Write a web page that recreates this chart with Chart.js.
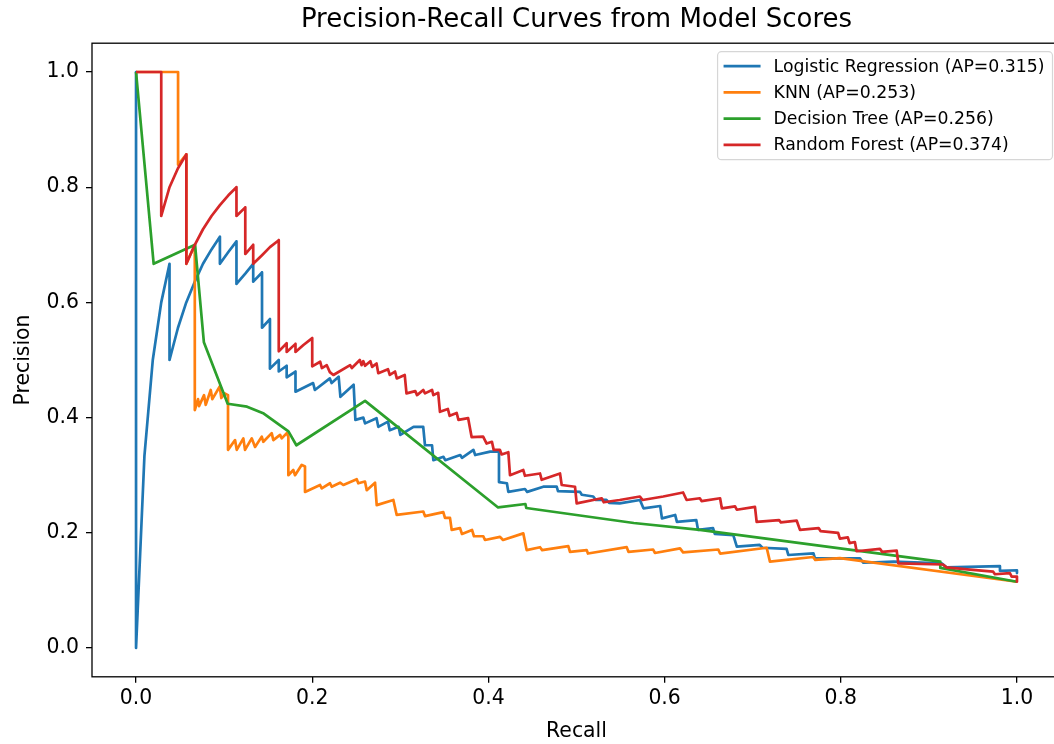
<!DOCTYPE html>
<html>
<head>
<meta charset="utf-8">
<script src="https://cdn.jsdelivr.net/npm/chart.js@4.4.1/dist/chart.umd.min.js"></script>
<style>
  html, body { margin: 0; padding: 0; background: #fff; overflow: hidden; }
  #wrap { width: 1061px; height: 744px; }
</style>
</head>
<body>
<div id="wrap"><canvas id="pr" width="1061" height="744"></canvas></div>
<script>
const modelNames = ['Logistic Regression', 'KNN', 'Decision Tree', 'Random Forest'];
const apScores = [0.315, 0.253, 0.256, 0.374];
const lineColors = ['#1f77b4', '#ff7f0e', '#2ca02c', '#d62728'];
const xTicks = [0, 0.2, 0.4, 0.6, 0.8, 1.0];
const yTicks = [0, 0.2, 0.4, 0.6, 0.8, 1.0];

// [recall, precision] vertices
const lrCurve = [
  [0, 1], [0, 0], [0.0095, 0.333], [0.019, 0.5], [0.0286, 0.6], [0.038, 0.667], [0.038, 0.5],
  [0.0476, 0.556], [0.057, 0.6], [0.0667, 0.636], [0.076, 0.667], [0.0857, 0.692], [0.0952, 0.714],
  [0.0952, 0.667], [0.105, 0.688], [0.114, 0.706], [0.114, 0.632], [0.124, 0.65], [0.133, 0.667],
  [0.133, 0.636], [0.143, 0.652], [0.143, 0.556], [0.152, 0.571], [0.152, 0.485], [0.162, 0.5],
  [0.162, 0.48], [0.171, 0.49], [0.171, 0.47], [0.181, 0.48], [0.181, 0.445], [0.201, 0.46],
  [0.203, 0.448], [0.22, 0.468], [0.222, 0.46], [0.23, 0.471], [0.232, 0.436], [0.247, 0.457],
  [0.249, 0.396], [0.258, 0.4], [0.26, 0.39], [0.273, 0.399], [0.275, 0.384], [0.286, 0.393],
  [0.288, 0.378], [0.298, 0.384], [0.3, 0.37], [0.315, 0.384], [0.326, 0.384], [0.328, 0.352],
  [0.336, 0.352], [0.3375, 0.326], [0.349, 0.332], [0.351, 0.326], [0.368, 0.335], [0.37, 0.33],
  [0.383, 0.344], [0.385, 0.335], [0.402, 0.341], [0.412, 0.341], [0.412, 0.288], [0.421, 0.286],
  [0.4226, 0.271], [0.4415, 0.276], [0.444, 0.271], [0.4623, 0.28], [0.4775, 0.28], [0.479, 0.2725],
  [0.504, 0.271], [0.506, 0.266], [0.519, 0.263], [0.522, 0.257], [0.534, 0.257], [0.537, 0.252],
  [0.549, 0.251], [0.572, 0.257], [0.576, 0.2425], [0.595, 0.2465], [0.597, 0.225], [0.612, 0.231],
  [0.614, 0.219], [0.636, 0.222], [0.638, 0.205], [0.655, 0.208], [0.657, 0.198], [0.678, 0.196],
  [0.682, 0.176], [0.708, 0.179], [0.711, 0.174], [0.7385, 0.172], [0.7404, 0.1615], [0.769, 0.1644],
  [0.7707, 0.1557], [0.8218, 0.1557], [0.8256, 0.148], [0.86, 0.15], [0.9145, 0.147], [0.92, 0.14],
  [0.9807, 0.142], [0.9807, 0.134], [1.0, 0.135], [1.0, 0.13]
];
const knnCurve = [
  [0, 1], [0.0477, 1], [0.0477, 0.839], [0.0571, 0.857], [0.0571, 0.667], [0.0667, 0.7], [0.0667, 0.413],
  [0.0704, 0.432], [0.0715, 0.42], [0.0772, 0.439], [0.0791, 0.422], [0.0848, 0.448], [0.0866, 0.432],
  [0.095, 0.454], [0.0968, 0.434], [0.1007, 0.442], [0.1044, 0.439], [0.1044, 0.344], [0.1124, 0.361],
  [0.1143, 0.344], [0.1218, 0.364], [0.1237, 0.344], [0.1313, 0.364], [0.1351, 0.349], [0.1427, 0.367],
  [0.1445, 0.358], [0.154, 0.373], [0.1558, 0.361], [0.1635, 0.37], [0.1654, 0.364], [0.1711, 0.373],
  [0.1729, 0.367], [0.1729, 0.3], [0.1785, 0.309], [0.1805, 0.3], [0.1881, 0.318], [0.1918, 0.315],
  [0.1918, 0.271], [0.2089, 0.283], [0.2108, 0.277], [0.2202, 0.286], [0.2221, 0.28], [0.2316, 0.287],
  [0.2353, 0.283], [0.2505, 0.293], [0.2523, 0.286], [0.2599, 0.289], [0.2619, 0.274], [0.2713, 0.287],
  [0.2732, 0.248], [0.2921, 0.257], [0.2959, 0.231], [0.3261, 0.237], [0.328, 0.229], [0.3488, 0.236],
  [0.3507, 0.226], [0.3564, 0.226], [0.3583, 0.205], [0.3678, 0.208], [0.37, 0.198], [0.3814, 0.205],
  [0.3836, 0.194], [0.3942, 0.194], [0.3961, 0.1875], [0.4132, 0.193], [0.4166, 0.1875], [0.4396, 0.199],
  [0.4434, 0.17], [0.4586, 0.175], [0.461, 0.17], [0.4907, 0.177], [0.4926, 0.167], [0.5116, 0.17],
  [0.513, 0.164], [0.557, 0.175], [0.559, 0.167], [0.587, 0.171], [0.589, 0.165], [0.6175, 0.173],
  [0.621, 0.166], [0.661, 0.171], [0.663, 0.164], [0.7159, 0.174], [0.7196, 0.15], [0.7685, 0.158],
  [0.771, 0.153], [0.799, 0.156], [1.0, 0.115]
];
const dtCurve = [
  [0, 1], [0.02, 0.667], [0.067, 0.7], [0.077, 0.531], [0.104, 0.424], [0.126, 0.419], [0.145, 0.407],
  [0.173, 0.376], [0.182, 0.352], [0.26, 0.429], [0.411, 0.244], [0.442, 0.25], [0.443, 0.243],
  [0.565, 0.217], [0.64, 0.205], [0.913, 0.15], [0.913, 0.139], [1.0, 0.115]
];
const rfCurve = [
  [0, 1], [0.0286, 1], [0.0286, 0.75], [0.038, 0.8], [0.0476, 0.833], [0.0571, 0.857], [0.0571, 0.667],
  [0.0667, 0.7], [0.076, 0.727], [0.0857, 0.75], [0.0952, 0.769], [0.1048, 0.786], [0.114, 0.8],
  [0.114, 0.75], [0.124, 0.765], [0.124, 0.684], [0.133, 0.7], [0.133, 0.667], [0.143, 0.682],
  [0.152, 0.696], [0.162, 0.708], [0.162, 0.515], [0.171, 0.529], [0.171, 0.514], [0.181, 0.528],
  [0.181, 0.514], [0.19, 0.526], [0.2, 0.538], [0.2, 0.489], [0.209, 0.497], [0.211, 0.486],
  [0.2165, 0.491], [0.22, 0.479], [0.224, 0.474], [0.243, 0.491], [0.245, 0.486], [0.254, 0.5],
  [0.256, 0.491], [0.258, 0.498], [0.26, 0.49], [0.266, 0.498], [0.268, 0.488], [0.273, 0.494],
  [0.275, 0.477], [0.286, 0.484], [0.288, 0.474], [0.294, 0.48], [0.296, 0.468], [0.305, 0.474],
  [0.307, 0.442], [0.317, 0.446], [0.319, 0.439], [0.326, 0.448], [0.328, 0.442], [0.336, 0.448],
  [0.3375, 0.439], [0.343, 0.443], [0.345, 0.41], [0.354, 0.415], [0.356, 0.403], [0.364, 0.408],
  [0.366, 0.396], [0.377, 0.399], [0.381, 0.366], [0.394, 0.367], [0.398, 0.355], [0.404, 0.358],
  [0.406, 0.344], [0.413, 0.344], [0.415, 0.336], [0.4226, 0.34], [0.4245, 0.3], [0.4396, 0.309],
  [0.4415, 0.299], [0.4586, 0.303], [0.4605, 0.292], [0.4813, 0.303], [0.4832, 0.283], [0.4983, 0.28],
  [0.5002, 0.251], [0.5286, 0.26], [0.531, 0.253], [0.549, 0.257], [0.572, 0.263], [0.575, 0.257],
  [0.5985, 0.263], [0.621, 0.27], [0.625, 0.257], [0.64, 0.26], [0.642, 0.255], [0.663, 0.26],
  [0.665, 0.2425], [0.68, 0.246], [0.682, 0.24], [0.7026, 0.245], [0.7045, 0.219], [0.73, 0.222],
  [0.732, 0.218], [0.75, 0.221], [0.7537, 0.205], [0.775, 0.208], [0.777, 0.203], [0.797, 0.2],
  [0.799, 0.19], [0.808, 0.192], [0.81, 0.182], [0.816, 0.184], [0.818, 0.168], [0.8445, 0.172],
  [0.847, 0.167], [0.8635, 0.169], [0.8653, 0.147], [0.916, 0.145], [0.92, 0.14], [0.9467, 0.136],
  [0.973, 0.1325], [0.975, 0.128], [0.992, 0.13], [0.994, 0.124], [1.0, 0.124], [1.0, 0.115]
];
const curves = [lrCurve, knnCurve, dtCurve, rfCurve];

const FONT = '"DejaVu Sans", "Liberation Sans", sans-serif';
Chart.defaults.color = '#000';
Chart.defaults.font.family = FONT;

const datasets = curves.map((c, i) => ({
  label: modelNames[i] + ' (AP=' + apScores[i].toFixed(3) + ')',
  data: c.map(([r, p]) => ({ x: r, y: p })),
  showLine: true,
  borderColor: lineColors[i],
  backgroundColor: lineColors[i],
  borderWidth: 2.7,
  borderJoinStyle: 'round',
  pointRadius: 0,
  pointHoverRadius: 0,
  tension: 0,
  order: curves.length - 1 - i   // later series on top, like matplotlib
}));

// spines, title and the in-axes legend
const decor = {
  id: 'decor',
  afterDraw(chart) {
    const { ctx, chartArea: a } = chart;
    ctx.save();
    ctx.strokeStyle = '#000';
    ctx.lineWidth = 1.3;
    ctx.strokeRect(a.left, a.top, a.right - a.left, a.bottom - a.top);

    ctx.fillStyle = '#000';
    ctx.font = '26px ' + FONT;
    ctx.textAlign = 'center';
    ctx.textBaseline = 'middle';
    ctx.fillText('Precision-Recall Curves from Model Scores', (a.left + a.right) / 2, 20);

    ctx.font = '17.3px ' + FONT;
    const labels = chart.data.datasets.map(d => d.label);
    const textW = Math.max(...labels.map(l => ctx.measureText(l).width));
    const boxW = 56 + textW + 8;
    const boxH = 108;
    const bx = a.right - 8.5 - boxW;
    const by = a.top + 8.5;
    ctx.beginPath();
    ctx.roundRect(bx, by, boxW, boxH, 4);
    ctx.fillStyle = 'rgba(255,255,255,0.8)';
    ctx.fill();
    ctx.strokeStyle = 'rgba(204,204,204,0.8)';
    ctx.lineWidth = 1.2;
    ctx.stroke();
    ctx.textAlign = 'left';
    labels.forEach((l, i) => {
      const y = by + 14.5 + i * 26.2;
      ctx.strokeStyle = chart.data.datasets[i].borderColor;
      ctx.lineWidth = 2.7;
      ctx.beginPath();
      ctx.moveTo(bx + 6, y);
      ctx.lineTo(bx + 43, y);
      ctx.stroke();
      ctx.fillStyle = '#000';
      ctx.fillText(l, bx + 56, y + 1);
    });
    ctx.restore();
  }
};

const tickFont = { family: FONT, size: 20.4 };
new Chart(document.getElementById('pr'), {
  type: 'scatter',
  data: { datasets },
  plugins: [decor],
  options: {
    responsive: false,
    devicePixelRatio: 1,
    animation: false,
    events: [],
    layout: { padding: { top: 43.2, left: 0, right: 0, bottom: 0 } },
    plugins: { legend: { display: false }, tooltip: { enabled: false }, title: { display: false } },
    scales: {
      x: {
        type: 'linear', min: -0.05, max: 1.05,
        afterBuildTicks: s => { s.ticks = xTicks.map(v => ({ value: v })); },
        afterFit: s => { s.height = 67.2; },
        ticks: { callback: v => v.toFixed(1), font: tickFont, color: '#000', padding: 4, maxRotation: 0, autoSkip: false },
        grid: { drawOnChartArea: false, drawTicks: true, tickLength: 6, color: '#000', lineWidth: 1.3 },
        border: { display: false },
        title: { display: true, text: 'Recall', font: tickFont, color: '#000', padding: { top: 0, bottom: 0 } }
      },
      y: {
        type: 'linear', min: -0.05, max: 1.05,
        afterBuildTicks: s => { s.ticks = yTicks.map(v => ({ value: v })); },
        afterFit: s => { s.width = 92; },
        ticks: { callback: v => v.toFixed(1), font: tickFont, color: '#000', padding: 7, autoSkip: false },
        grid: { drawOnChartArea: false, drawTicks: true, tickLength: 6, color: '#000', lineWidth: 1.3 },
        border: { display: false },
        title: { display: true, text: 'Precision', font: tickFont, color: '#000', padding: { top: 11, bottom: 0 } }
      }
    }
  }
});
</script>
</body>
</html>
